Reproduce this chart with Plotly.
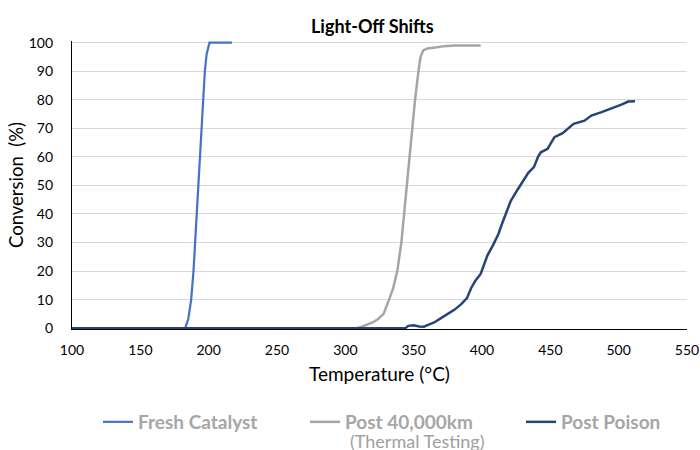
import plotly.graph_objects as go

# Fresh Catalyst
fresh_T = [100, 182.8, 185, 187.2, 188.9, 190.1, 191.1, 192.3, 193.3, 194.5, 195.7, 197.2, 198.5, 200.6, 217]
fresh_C = [0, 0, 3, 10, 20, 30, 40, 50, 60, 70, 80, 90, 96, 100, 100]

# Post 40,000km (Thermal Testing)
aged_T = [100, 308, 312, 316, 320, 324, 328, 332, 335, 338, 341, 343, 345, 346.5, 348.5, 351,
          353.5, 355, 357, 360, 366, 372, 380, 390, 399]
aged_C = [0, 0, 0.5, 1.2, 2, 3.2, 5, 10, 14, 20, 30, 40, 50, 60, 70, 80,
          90, 95, 97.3, 98, 98.3, 98.8, 99, 99, 99]

# Post Poison
poison_T = [100, 344, 346, 350, 354, 357.5, 361, 365, 370, 375, 380, 385, 389, 392, 395, 399,
            402, 404, 408, 412, 415, 418, 421, 426, 430, 434, 438, 441, 443, 446, 448, 450,
            453, 459, 463, 467, 475, 480, 487, 494, 502, 507, 512]
poison_C = [0, 0, 0.8, 1, 0.6, 0.5, 1.2, 2.0, 3.5, 5, 6.5, 8.5, 10.5, 14, 16.5, 19,
            23, 25.5, 29, 33, 37, 40.5, 44.5, 48.5, 51.5, 54.5, 56.4, 60, 61.6, 62.5, 62.8, 64.5,
            66.9, 68.3, 70, 71.6, 72.7, 74.5, 75.6, 76.8, 78.3, 79.4, 79.5]

x_ticks = [100, 150, 200, 250, 300, 350, 400, 450, 500, 550]
y_ticks = [0, 10, 20, 30, 40, 50, 60, 70, 80, 90, 100]

FONT = "Lato, 'Open Sans', sans-serif"
LEG_FONT = dict(size=19, color="#A6A6A6")

fig = go.Figure()
fig.add_trace(go.Scatter(x=fresh_T, y=fresh_C, mode="lines", name="<b>Fresh Catalyst</b>",
                         line=dict(color="#4472C4", width=2.2), legend="legend"))
fig.add_trace(go.Scatter(x=aged_T, y=aged_C, mode="lines", name="<b>Post 40,000km</b>",
                         line=dict(color="#A5A5A5", width=2.5), legend="legend2"))
fig.add_trace(go.Scatter(x=poison_T, y=poison_C, mode="lines", name="<b>Post Poison</b>",
                         line=dict(color="#264478", width=2.5), legend="legend3"))


def leg(xpx):
    return dict(orientation="h", x=xpx / 700, xanchor="left", xref="container",
                y=28 / 450, yanchor="middle", yref="container",
                font=LEG_FONT, itemwidth=30, bgcolor="rgba(0,0,0,0)", borderwidth=0)


fig.update_layout(
    width=700, height=450,
    margin=dict(l=72, r=13, t=41, b=121, autoexpand=False),
    paper_bgcolor="white", plot_bgcolor="white",
    font=dict(family=FONT, color="#000000"),
    title=dict(text="<b>Light-Off Shifts</b>", x=0.532, xref="container", xanchor="center",
               y=1 - 27 / 450, yref="container", yanchor="middle",
               font=dict(size=18, color="#000000")),
    showlegend=True,
    legend=leg(98),
    legend2=leg(305),
    legend3=leg(521),
    xaxis=dict(range=[100, 550], tickvals=x_ticks, showgrid=False, zeroline=False,
               showline=True, linecolor="#000000", linewidth=1.3, ticks="",
               ticklabelstandoff=8, automargin=False,
               tickfont=dict(size=14, color="#000000"),
               title=dict(text="Temperature (°C)", font=dict(size=19, color="#000000"), standoff=10)),
    yaxis=dict(range=[-0.3, 100.6], tickvals=y_ticks, showgrid=True, gridcolor="#D9D9D9",
               gridwidth=1, zeroline=False, showline=True, linecolor="#000000", linewidth=1.3,
               ticks="", ticklabelstandoff=15, automargin=False,
               tickfont=dict(size=14, color="#000000"),
               title=dict(text="Conversion  (%)", font=dict(size=18.5, color="#000000"), standoff=0)),
)

fig.add_annotation(text="(Thermal Testing)", xref="paper", yref="paper",
                   x=(417 - 72) / 615, y=(329 - 441) / 288, showarrow=False,
                   font=dict(size=18, color="#A0A0A0", family=FONT),
                   xanchor="center", yanchor="middle")

fig.write_html("out.html", config={"displayModeBar": False},
               post_script="document.body.style.margin='0px';")
